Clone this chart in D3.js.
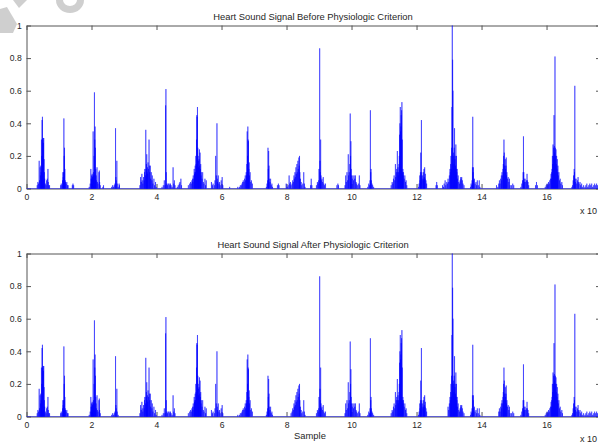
<!DOCTYPE html>
<html>
<head>
<meta charset="utf-8">
<script src="https://cdn.jsdelivr.net/npm/d3@7"></script>
<style>
  html, body { margin: 0; padding: 0; background: #fff; overflow: hidden; }
  svg { display: block; }
  text { font-family: "Liberation Sans", Arial, Helvetica, sans-serif; fill: #262626; }
</style>
</head>
<body>
<svg id="fig" width="598" height="443"></svg>
<script>
// Envelope peaks of the heart sound signal: [sample (x 10^4), normalised amplitude]
const envelopePeaks = [
  [0.33,.02],[0.35,.04],[0.37,.03],[0.39,.17],[0.40,.05],[0.42,.13],[0.43,.08],[0.44,.14],[0.45,.10],[0.46,.30],[0.47,.20],[0.48,.42],[0.49,.44],[0.50,.30],[0.51,.31],[0.52,.28],[0.53,.31],[0.54,.18],[0.55,.10],[0.56,.06],[0.58,.03],[0.60,.02],[0.62,.05],[0.64,.06],[0.66,.12],[0.67,.04],[0.69,.02],[0.71,.02],
  [1.05,.02],[1.07,.03],[1.09,.02],[1.11,.05],[1.12,.10],[1.13,.07],[1.14,.10],[1.15,.43],[1.16,.20],[1.17,.25],[1.18,.12],[1.19,.05],[1.20,.04],[1.22,.03],[1.24,.04],[1.26,.02],[1.28,.02],[1.41,.02],[1.43,.03],[1.45,.02],
  [1.93,.01],[1.96,.03],[1.98,.12],[1.99,.06],[2.00,.08],[2.01,.06],[2.02,.09],[2.03,.07],[2.04,.08],[2.05,.35],[2.06,.10],[2.07,.08],[2.08,.20],[2.09,.59],[2.10,.30],[2.11,.38],[2.12,.25],[2.13,.12],[2.14,.08],[2.15,.05],[2.17,.13],[2.18,.04],[2.20,.03],[2.23,.10],[2.24,.11],[2.25,.04],[2.27,.02],[2.35,.01],[2.37,.02],
  [2.62,.01],[2.65,.02],[2.68,.01],[2.70,.02],[2.72,.03],[2.74,.37],[2.75,.07],[2.76,.05],[2.78,.17],[2.79,.03],[2.82,.01],[2.85,.03],[2.86,.02],
  [3.49,.02],[3.51,.07],[3.53,.04],[3.55,.09],[3.56,.05],[3.58,.03],[3.60,.07],[3.62,.05],[3.63,.10],[3.64,.12],[3.66,.08],[3.67,.36],[3.68,.12],[3.69,.15],[3.70,.21],[3.71,.10],[3.72,.13],[3.73,.09],[3.74,.16],[3.75,.12],[3.77,.30],[3.78,.14],[3.79,.10],[3.81,.14],[3.82,.06],[3.84,.10],[3.86,.05],[3.87,.08],[3.89,.03],[3.92,.06],[3.94,.02],[3.97,.04],[3.99,.01],
  [4.17,.01],[4.21,.02],[4.24,.05],[4.26,.02],[4.28,.51],[4.29,.61],[4.30,.10],[4.32,.03],[4.34,.02],[4.36,.03],[4.39,.03],[4.41,.02],[4.43,.03],[4.45,.02],[4.48,.01],[4.51,.13],[4.53,.03],[4.55,.05],[4.57,.02],[4.64,.01],[4.67,.02],[4.70,.03],[4.72,.04],[4.75,.06],[4.77,.02],
  [4.98,.02],[5.02,.03],[5.05,.04],[5.07,.03],[5.09,.05],[5.11,.06],[5.12,.04],[5.13,.08],[5.15,.06],[5.16,.12],[5.17,.09],[5.18,.10],[5.19,.14],[5.20,.10],[5.21,.20],[5.22,.15],[5.23,.30],[5.24,.45],[5.25,.44],[5.26,.50],[5.27,.25],[5.28,.20],[5.29,.17],[5.30,.13],[5.31,.18],[5.32,.24],[5.33,.14],[5.34,.22],[5.35,.12],[5.36,.15],[5.37,.08],[5.38,.10],[5.40,.06],[5.42,.10],[5.44,.04],[5.46,.03],[5.49,.06],[5.51,.02],[5.53,.05],
  [5.69,.04],[5.72,.02],[5.74,.03],[5.78,.02],[5.80,.05],[5.82,.20],[5.84,.08],[5.86,.40],[5.87,.06],[5.88,.04],[5.90,.08],[5.92,.03],[5.94,.04],[5.96,.02],[5.99,.05],[6.02,.07],[6.04,.02],[6.25,.01],
  [6.50,.01],[6.55,.01],[6.58,.02],[6.61,.02],[6.63,.03],[6.65,.04],[6.67,.05],[6.69,.04],[6.71,.06],[6.73,.08],[6.74,.05],[6.76,.10],[6.77,.08],[6.78,.15],[6.79,.35],[6.80,.20],[6.81,.38],[6.82,.30],[6.83,.29],[6.84,.12],[6.85,.16],[6.86,.08],[6.88,.10],[6.90,.04],[6.92,.05],[6.95,.03],
  [7.38,.01],[7.40,.03],[7.42,.05],[7.43,.25],[7.44,.12],[7.45,.23],[7.46,.14],[7.47,.06],[7.49,.04],[7.51,.06],[7.53,.02],[7.55,.03],[7.57,.01],[7.72,.02],[7.75,.03],[7.77,.02],
  [7.99,.03],[8.02,.01],[8.05,.02],[8.08,.08],[8.10,.03],[8.12,.04],[8.14,.02],[8.17,.03],[8.19,.05],[8.21,.04],[8.23,.08],[8.24,.06],[8.26,.10],[8.27,.07],[8.29,.13],[8.30,.09],[8.32,.15],[8.33,.10],[8.35,.17],[8.36,.12],[8.38,.19],[8.39,.14],[8.40,.20],[8.41,.10],[8.43,.06],[8.45,.04],[8.47,.02],[8.50,.03],[8.53,.10],[8.55,.03],[8.57,.01],
  [8.74,.02],[8.76,.06],[8.78,.02],[8.92,.02],[8.95,.04],[8.97,.03],[8.99,.05],[9.00,.12],[9.02,.86],[9.03,.17],[9.04,.10],[9.05,.30],[9.06,.08],[9.07,.05],[9.09,.06],[9.11,.04],[9.13,.07],[9.15,.03],[9.17,.02],[9.20,.03],[9.55,.02],[9.58,.03],[9.60,.02],
  [9.80,.02],[9.82,.08],[9.84,.04],[9.86,.10],[9.88,.05],[9.90,.21],[9.91,.08],[9.93,.10],[9.95,.15],[9.96,.46],[9.97,.20],[9.98,.29],[9.99,.12],[10.00,.08],[10.02,.06],[10.04,.08],[10.06,.05],[10.08,.08],[10.10,.06],[10.12,.08],[10.14,.04],[10.16,.03],[10.18,.02],[10.22,.03],[10.24,.08],[10.26,.02],
  [10.50,.01],[10.53,.03],[10.55,.02],[10.57,.05],[10.58,.48],[10.59,.10],[10.60,.12],[10.61,.05],[10.63,.03],[10.65,.02],[10.68,.01],
  [11.22,.02],[11.25,.04],[11.27,.03],[11.29,.06],[11.31,.08],[11.33,.05],[11.35,.15],[11.36,.07],[11.38,.10],[11.39,.12],[11.41,.23],[11.42,.10],[11.43,.13],[11.44,.08],[11.45,.10],[11.46,.15],[11.47,.20],[11.48,.33],[11.49,.40],[11.50,.50],[11.51,.35],[11.52,.38],[11.53,.45],[11.54,.48],[11.55,.53],[11.56,.30],[11.57,.10],[11.58,.12],[11.59,.08],[11.60,.10],[11.62,.06],[11.64,.08],[11.66,.04],[11.68,.05],[11.70,.02],
  [12.06,.01],[12.08,.03],[12.10,.08],[12.11,.05],[12.12,.10],[12.13,.22],[12.14,.08],[12.15,.42],[12.16,.10],[12.17,.06],[12.19,.08],[12.20,.05],[12.21,.10],[12.22,.06],[12.23,.12],[12.24,.07],[12.25,.13],[12.26,.06],[12.27,.09],[12.29,.05],[12.31,.03],[12.60,.02],[12.62,.04],[12.64,.02],
  [12.80,.02],[12.83,.01],[12.85,.03],[12.88,.05],[12.90,.02],[12.93,.04],[12.95,.03],[12.97,.06],[12.99,.04],[13.01,.08],[13.03,.12],[13.04,.10],[13.05,.15],[13.06,.20],[13.07,.12],[13.08,.25],[13.09,.50],[13.10,1.0],[13.11,.79],[13.12,.60],[13.13,.20],[13.14,.22],[13.15,.15],[13.16,.25],[13.17,.37],[13.18,.18],[13.19,.20],[13.20,.14],[13.21,.27],[13.22,.12],[13.23,.20],[13.24,.10],[13.25,.12],[13.26,.06],[13.28,.08],[13.30,.04],[13.32,.03],[13.34,.05],[13.36,.07],[13.37,.06],[13.39,.07],[13.41,.05],[13.43,.03],[13.46,.02],
  [13.66,.01],[13.68,.03],[13.70,.02],[13.71,.05],[13.72,.13],[13.73,.44],[13.74,.10],[13.75,.13],[13.76,.05],[13.78,.06],[13.80,.03],[13.83,.04],[13.85,.02],[13.87,.05],[13.90,.02],[13.93,.05],[13.95,.01],
  [14.46,.02],[14.50,.01],[14.53,.03],[14.55,.05],[14.57,.03],[14.59,.06],[14.61,.08],[14.62,.05],[14.63,.10],[14.65,.08],[14.66,.12],[14.67,.15],[14.68,.20],[14.69,.30],[14.70,.22],[14.71,.14],[14.72,.10],[14.73,.18],[14.74,.12],[14.75,.14],[14.76,.19],[14.77,.08],[14.78,.10],[14.80,.06],[14.82,.07],[14.84,.04],[14.86,.06],[14.88,.02],[14.92,.02],[14.96,.03],[14.99,.02],
  [15.21,.01],[15.24,.03],[15.26,.05],[15.28,.10],[15.29,.32],[15.30,.10],[15.31,.06],[15.32,.04],[15.34,.06],[15.36,.04],[15.38,.05],[15.40,.09],[15.41,.05],[15.43,.04],[15.45,.02],[15.66,.02],[15.69,.04],[15.72,.02],
  [15.96,.01],[15.99,.02],[16.02,.03],[16.04,.02],[16.06,.04],[16.08,.03],[16.10,.05],[16.12,.06],[16.14,.09],[16.15,.06],[16.16,.10],[16.17,.12],[16.18,.20],[16.19,.15],[16.20,.27],[16.21,.20],[16.22,.25],[16.23,.45],[16.24,.26],[16.25,.22],[16.26,.81],[16.27,.25],[16.28,.20],[16.29,.24],[16.30,.15],[16.31,.20],[16.32,.12],[16.33,.18],[16.34,.10],[16.35,.14],[16.36,.08],[16.38,.10],[16.40,.05],[16.42,.06],[16.44,.03],[16.47,.04],[16.49,.02],
  [16.78,.01],[16.80,.02],[16.82,.05],[16.83,.08],[16.85,.12],[16.86,.10],[16.87,.63],[16.88,.06],[16.89,.04],[16.91,.06],[16.93,.03],[16.95,.05],[16.97,.07],[16.98,.04],[17.00,.03],[17.03,.04],[17.05,.02],[17.08,.03],[17.10,.01],
  [17.14,.02],[17.18,.01],[17.21,.02],[17.24,.03],[17.27,.01],[17.30,.02],[17.33,.03],[17.36,.02],[17.39,.03],[17.42,.01],[17.45,.02],[17.48,.03],[17.51,.02],[17.54,.03],[17.57,.02],[17.60,.03],[17.63,.02]
];

// Sample spans (x 10^4) rejected by the physiologic criterion
const rejectedSpans = [
  [1.39,1.47],[2.33,2.39],[2.83,2.88],[4.62,4.79],[6.22,6.28],[7.70,7.79],[7.97,8.13],
  [8.72,8.80],[9.53,9.62],[12.57,12.66],[12.78,12.95],[14.44,14.51],[15.63,15.74]
];

const xTicks = [0, 2, 4, 6, 8, 10, 12, 14, 16];
const yTicks = [0, 0.2, 0.4, 0.6, 0.8, 1];
const panelTitles = [
  "Heart Sound Signal Before Physiologic Criterion",
  "Heart Sound Signal After Physiologic Criterion"
];
const xLabel = "Sample";
const xScaleNote = "x 10";
const xMax = 17.66;

const svg = d3.select("#fig");

// faint logo in the top-left corner
const logo = svg.append("g").attr("fill", "#cfcfcf");
logo.append("path").attr("d", "M0,9 L7,7 L17,24 L13,33 L0,33 Z");
logo.append("path").attr("d", "M13,0 L27,0 L19,8 Z");
logo.append("path").attr("d", "M56,0 A14,13 0 0 0 84,0 L77,0 A7,6 0 0 1 63,0 Z");

const x = d3.scaleLinear().domain([0, xMax]).range([26.5, 600.5]);

const panels = [
  { top: 25.5, bottom: 188.5, title: panelTitles[0], peaks: envelopePeaks, label: null },
  { top: 253.5, bottom: 416.5, title: panelTitles[1],
    peaks: envelopePeaks.filter(([s]) => !rejectedSpans.some(([a, b]) => s >= a && s <= b)),
    label: xLabel }
];

const halfWidth = 0.002; // half-width of one oscillation, in 10^4 samples
const yFmt = d => (d === 0 ? "0" : d === 1 ? "1" : d3.format(".1f")(d));

function styleAxis(g) {
  g.attr("font-family", null).attr("font-size", null);
  g.select(".domain").attr("stroke", "#555").attr("stroke-width", 1);
  g.selectAll(".tick line").attr("stroke", "#555").attr("stroke-width", 1);
  g.selectAll(".tick text").attr("font-size", "8.6px").attr("fill", "#262626");
}

panels.forEach(p => {
  const y = d3.scaleLinear().domain([0, 1]).range([p.bottom, p.top]);
  const line = d3.line().x(d => x(d[0])).y(d => y(d[1]));
  const g = svg.append("g");

  g.append("g").attr("transform", `translate(0,${p.bottom})`)
    .call(d3.axisBottom(x).tickValues(xTicks).tickSize(-4.5).tickSizeOuter(0).tickPadding(5.1).tickFormat(d3.format("d")))
    .call(styleAxis);
  g.append("g").attr("transform", `translate(0,${p.top})`)
    .call(d3.axisTop(x).tickValues(xTicks).tickSize(-4.5).tickSizeOuter(0).tickFormat(""))
    .call(styleAxis);
  g.append("g").attr("transform", `translate(${x(0)},0)`)
    .call(d3.axisLeft(y).tickValues(yTicks).tickSize(-4.5).tickSizeOuter(0).tickPadding(4.8).tickFormat(yFmt))
    .call(styleAxis);
  g.append("g").attr("transform", `translate(${x(xMax)},0)`)
    .call(d3.axisRight(y).tickValues(yTicks).tickSize(-4.5).tickSizeOuter(0).tickFormat(""))
    .call(styleAxis);

  // signal at rest on zero
  g.append("path")
    .attr("d", line([[0, 0], [xMax, 0]]))
    .attr("fill", "none")
    .attr("stroke", "#0000ff")
    .attr("stroke-opacity", 0.45)
    .attr("stroke-width", 1);

  // one stroke per oscillation, so that dense stretches build up to solid blue
  g.append("g")
    .selectAll("path")
    .data(p.peaks)
    .join("path")
    .attr("d", ([s, a]) => line([[s - halfWidth, 0], [s, a], [s + halfWidth, 0]]))
    .attr("fill", "none")
    .attr("stroke", "#0000ff")
    .attr("stroke-opacity", 0.55)
    .attr("stroke-width", 0.9)
    .attr("stroke-linejoin", "bevel");

  g.append("text")
    .attr("x", 313).attr("y", p.top - 6)
    .attr("text-anchor", "middle")
    .attr("font-size", "9.4px")
    .text(p.title);

  g.append("text")
    .attr("x", 580).attr("y", p.bottom + 25)
    .attr("font-size", "9px")
    .text(xScaleNote);

  if (p.label) {
    g.append("text")
      .attr("x", 310).attr("y", p.bottom + 22.5)
      .attr("text-anchor", "middle")
      .attr("font-size", "9.4px")
      .text(p.label);
  }
});
</script>
</body>
</html>
